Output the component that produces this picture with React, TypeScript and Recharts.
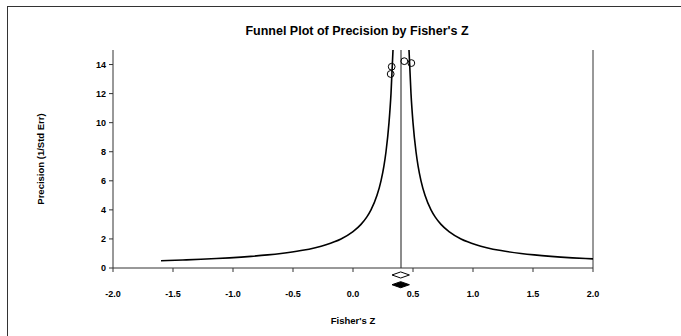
import React from 'react';
import {
  ComposedChart,
  Line,
  Scatter,
  XAxis,
  YAxis,
  ReferenceLine,
  ReferenceArea,
} from 'recharts';

// studies (Fisher's Z, precision = 1/SE)
const studyZ = [0.314, 0.3225, 0.4275, 0.486];
const studyPrecision = [13.35, 13.85, 14.23, 14.1];

// pooled estimate and its CI (observed and imputed are the same here)
const pooledZ = 0.4;
const observedCI = [0.325, 0.47];
const imputedCI = [0.325, 0.47];

// precision levels at which the funnel limits are drawn
const funnelPrecision = [0.5, 0.55, 0.6, 0.65, 0.7, 0.8, 0.9, 1, 1.2, 1.4, 1.6, 1.8, 2, 2.5, 3, 3.5, 4, 5, 6, 7, 8, 10, 12, 15];
const funnelWidth = 1;

const xTicks = [-2, -1.5, -1, -0.5, 0, 0.5, 1, 1.5, 2];
const yTicks = [0, 2, 4, 6, 8, 10, 12, 14];

const studies = studyZ.map((z, i) => ({ x: z, y: studyPrecision[i] }));
const leftFunnel = funnelPrecision.map(p => ({ x: pooledZ - funnelWidth / p, y: p }));
const rightFunnel = funnelPrecision.map(p => ({ x: pooledZ + funnelWidth / p, y: p })).reverse();

const font = '"Liberation Sans", Arial, sans-serif';
const tickStyle = { fontSize: 9, fontWeight: 700, fill: '#000', fontFamily: font };
const labelStyle = { fontSize: 9.5, fontWeight: 700, fill: '#000', fontFamily: font };

const Diamond = ({ x, y, width, height, filled }: any) => {
  const cx = x + width / 2;
  const cy = y + height / 2;
  const pts = `${x},${cy} ${cx},${y} ${x + width},${cy} ${cx},${y + height}`;
  return <polygon points={pts} fill={filled ? '#000' : '#fff'} stroke="#000" strokeWidth={1} />;
};

const YLabel = ({ viewBox }: any) => {
  const x = viewBox.x + 40;
  const y = viewBox.y + viewBox.height / 2;
  return (
    <text x={x} y={y} transform={`rotate(-90, ${x}, ${y})`} textAnchor="middle" dominantBaseline="central" style={labelStyle}>
      Precision (1/Std Err)
    </text>
  );
};

export default function App() {
  return (
    <div
      style={{
        position: 'fixed',
        left: 0,
        top: 0,
        width: 681,
        height: 336,
        overflow: 'hidden',
        background: '#fff',
        fontFamily: font,
      }}
    >
      <div
        style={{
          position: 'absolute',
          left: 7,
          top: 6,
          width: 720,
          height: 360,
          border: '1px solid #333',
        }}
      />
      <div
        style={{
          position: 'absolute',
          left: 0,
          top: 24,
          width: 714,
          textAlign: 'center',
          fontSize: 12.5,
          fontWeight: 700,
          lineHeight: '14px',
        }}
      >
        Funnel Plot of Precision by Fisher's Z
      </div>
      <div style={{ position: 'absolute', left: 0, top: 0 }}>
        <ComposedChart width={681} height={336} margin={{ top: 50, right: 88, bottom: 8, left: 0 }}>
          <XAxis
            type="number"
            dataKey="x"
            domain={[-2, 2]}
            allowDataOverflow
            ticks={xTicks}
            tickFormatter={(v: number) => v.toFixed(1)}
            tick={tickStyle}
            tickSize={4}
            tickMargin={19}
            height={60}
            axisLine={{ stroke: '#333' }}
            tickLine={{ stroke: '#333' }}
            label={{
              value: "Fisher's Z",
              position: 'insideBottom',
              offset: 4,
              style: labelStyle,
            }}
          />
          <YAxis
            type="number"
            dataKey="y"
            domain={[0, 15]}
            allowDataOverflow
            ticks={yTicks}
            tick={tickStyle}
            tickSize={4}
            tickMargin={3}
            width={113}
            axisLine={{ stroke: '#333' }}
            tickLine={{ stroke: '#333' }}
            label={<YLabel />}
          />
          <ReferenceLine x={2} stroke="#333" strokeWidth={1} />
          <ReferenceLine x={pooledZ} stroke="#666" strokeWidth={1.5} />
          <Line
            data={leftFunnel}
            dataKey="y"
            type="monotone"
            stroke="#000"
            strokeWidth={1.6}
            dot={false}
            isAnimationActive={false}
          />
          <Line
            data={rightFunnel}
            dataKey="y"
            type="monotone"
            stroke="#000"
            strokeWidth={1.6}
            dot={false}
            isAnimationActive={false}
          />
          <Scatter
            data={studies}
            isAnimationActive={false}
            shape={(p: any) => <circle cx={p.cx} cy={p.cy} r={3.4} fill="none" stroke="#000" strokeWidth={1} />}
          />
          <ReferenceArea
            x1={observedCI[0]}
            x2={observedCI[1]}
            y1={-0.27}
            y2={-0.69}
            ifOverflow="visible"
            shape={(p: any) => <Diamond {...p} filled={false} />}
          />
          <ReferenceArea
            x1={imputedCI[0]}
            x2={imputedCI[1]}
            y1={-0.94}
            y2={-1.36}
            ifOverflow="visible"
            shape={(p: any) => <Diamond {...p} filled />}
          />
        </ComposedChart>
      </div>
    </div>
  );
}
